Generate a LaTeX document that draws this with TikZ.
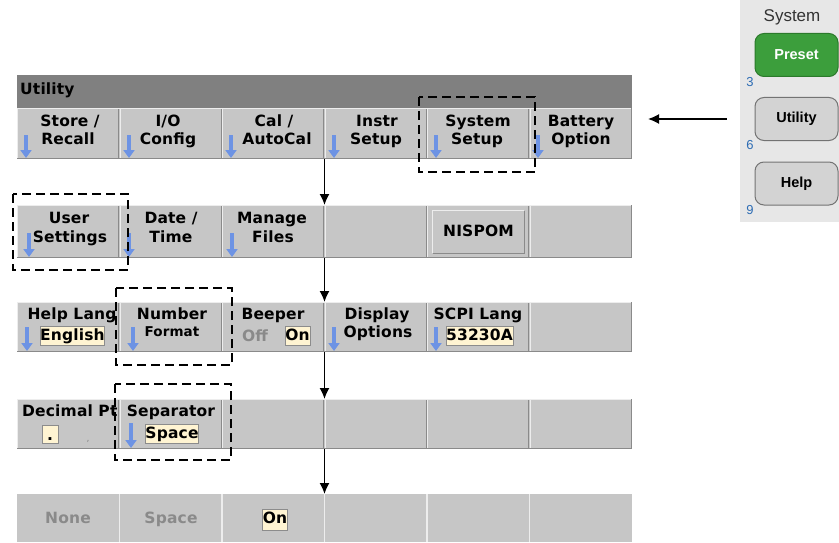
\documentclass[tikz,border=0pt]{standalone}
\usepackage{fontspec}
\newfontfamily\keyfont[LetterSpace=1]{DejaVu Sans}
\newfontfamily\sysfont{Liberation Sans}
\usetikzlibrary{arrows.meta,calc}
\definecolor{hdr}{HTML}{808080}
\definecolor{keyfill}{HTML}{C6C6C6}
\definecolor{sepdark}{HTML}{8A8A8A}
\definecolor{seplight}{HTML}{EDEDED}
\definecolor{cream}{HTML}{FFF4D2}
\definecolor{hlborder}{HTML}{8C8C8C}
\definecolor{blueA}{HTML}{6D93E4}
\definecolor{graytxt}{HTML}{8A8A8A}
\definecolor{panel}{HTML}{E7E7E7}
\definecolor{greenbtn}{HTML}{3C9E3C}
\definecolor{greendark}{HTML}{2B7A2B}
\definecolor{sysbtn}{HTML}{D3D3D3}
\definecolor{digit}{HTML}{2E6DB4}
\tikzset{
  keybox/.style={rectangle, fill=keyfill, minimum width=102.5pt, inner sep=0pt, outer sep=0pt},
  kt/.style={font=\keyfont\bfseries\fontsize{15.5}{17}\selectfont, inner sep=0pt, anchor=center, text=black, text height=11.5pt, text depth=3pt},
  ktsmall/.style={font=\keyfont\bfseries\fontsize{13.5}{15}\selectfont, inner sep=0pt, anchor=center, text height=10pt, text depth=3pt},
  ktgray/.style={kt, text=graytxt},
  hl/.style={fill=cream, draw=hlborder, line width=0.6pt, inner sep=0pt, font=\keyfont\bfseries\fontsize{15.5}{17}\selectfont, text height=11.5pt, text depth=3pt},
  barr/.style={draw=blueA, line width=3.2pt, -{Triangle[length=8pt,width=11pt]}},
  conn/.style={line width=1.6pt, -{Latex[length=11pt,width=10pt]}},
  dbox/.style={draw=black, line width=2pt, dash pattern=on 9pt off 5pt},
  sysb/.style={rectangle, rounded corners=9pt, minimum width=83pt, minimum height=43pt, inner sep=0pt},
  systxt/.style={font=\sysfont\bfseries\fontsize{14.5}{16}\selectfont},
  dig/.style={font=\sysfont\fontsize{13}{15}\selectfont, text=digit, inner sep=0pt},
}
\newcommand\barrow[3]{\draw[barr] (#1,#2) -- (#1,#3);}
\newcommand\rowseps[2]{%
  \foreach \xb in {119.5,222,324.5,427,529.5}{
    \draw[sepdark, line width=1pt] (\xb-0.6,#1) -- (\xb-0.6,#2);
    \draw[seplight, line width=1pt] (\xb+0.6,#1) -- (\xb+0.6,#2);
  }
  \draw[seplight, line width=1pt] (17.5,#1) -- (17.5,#2);
  \draw[seplight, line width=0.8pt] (17,#1+0.4) -- (632,#1+0.4);
  \draw[sepdark, line width=1.4pt] (631.3,#1) -- (631.3,#2);
  \draw[sepdark, line width=1.4pt] (17,#2-0.7) -- (632,#2-0.7);
}
\begin{document}
\begin{tikzpicture}[x=1pt,y=-1pt]
\useasboundingbox (0,0) rectangle (839,543);
\fill[white] (0,0) rectangle (839,543);

% ---------- Row 1: Utility ----------
\node[rectangle, fill=hdr, minimum width=615pt, minimum height=33pt, inner sep=0pt] (hdrbar) at (324.5,91.5) {};
\node[kt, anchor=west] (hdrtxt) at (20,90) {Utility};
\node[keybox, minimum height=51pt] (r1c1) at (68.25,133.5) {};
\node[keybox, minimum height=51pt] (r1c2) at (170.75,133.5) {};
\node[keybox, minimum height=51pt] (r1c3) at (273.25,133.5) {};
\node[keybox, minimum height=51pt] (r1c4) at (375.75,133.5) {};
\node[keybox, minimum height=51pt] (r1c5) at (478.25,133.5) {};
\node[keybox, minimum height=51pt] (r1c6) at (580.75,133.5) {};
\rowseps{108}{159}
\node[kt] (t11a) at (70,122) {Store /};
\node[kt] (t11b) at (68,140) {Recall};
\node[kt] (t12a) at (168,122) {I/O};
\node[kt] (t12b) at (168,140) {Config};
\node[kt] (t13a) at (274,122) {Cal /};
\node[kt] (t13b) at (277,140) {AutoCal};
\node[kt] (t14a) at (377,122) {Instr};
\node[kt] (t14b) at (376,140) {Setup};
\node[kt] (t15a) at (478,122) {System};
\node[kt] (t15b) at (477,140) {Setup};
\node[kt] (t16a) at (581,122) {Battery};
\node[kt] (t16b) at (581,140) {Option};
\barrow{26}{135}{158}
\barrow{129}{135}{158}
\barrow{231}{135}{158}
\barrow{334}{135}{158}
\barrow{436}{135}{158}
\barrow{538}{135}{158}

% ---------- Row 2 ----------
\node[keybox, minimum height=53pt] (r2c1) at (68.25,231.5) {};
\node[keybox, minimum height=53pt] (r2c2) at (170.75,231.5) {};
\node[keybox, minimum height=53pt] (r2c3) at (273.25,231.5) {};
\node[keybox, minimum height=53pt] (r2c4) at (375.75,231.5) {};
\node[keybox, minimum height=53pt] (r2c5) at (478.25,231.5) {};
\node[keybox, minimum height=53pt] (r2c6) at (580.75,231.5) {};
\rowseps{205}{258}
\node[kt] (t21a) at (69,219) {User};
\node[kt] (t21b) at (70,238) {Settings};
\node[kt] (t22a) at (171,219) {Date /};
\node[kt] (t22b) at (171,238) {Time};
\node[kt] (t23a) at (272,219) {Manage};
\node[kt] (t23b) at (273,238) {Files};
\barrow{29}{233}{257}
\barrow{129}{233}{257}
\barrow{232}{233}{257}
\node[rectangle, fill=keyfill, minimum width=91pt, minimum height=42pt, inner sep=0pt] (nis) at (478.5,232) {};
\draw[seplight, line width=1.2pt] (nis.south west) -- (nis.north west) -- (nis.north east);
\draw[sepdark, line width=1.2pt] (nis.north east) -- (nis.south east) -- (nis.south west);
\node[kt] (nistxt) at (nis.center) {NISPOM};

% ---------- Row 3 ----------
\node[keybox, minimum height=50pt] (r3c1) at (68.25,327) {};
\node[keybox, minimum height=50pt] (r3c2) at (170.75,327) {};
\node[keybox, minimum height=50pt] (r3c3) at (273.25,327) {};
\node[keybox, minimum height=50pt] (r3c4) at (375.75,327) {};
\node[keybox, minimum height=50pt] (r3c5) at (478.25,327) {};
\node[keybox, minimum height=50pt] (r3c6) at (580.75,327) {};
\rowseps{302}{352}
\node[kt] (t31a) at (72,315) {Help Lang};
\node[hl, minimum width=61pt, minimum height=19pt] (t31b) at (72.5,336) {English};
\node[kt] (t32a) at (172,315) {Number};
\node[ktsmall] (t32b) at (172,333) {Format};
\node[kt] (t33a) at (273,315) {Beeper};
\node[ktgray] (t33b) at (255,337) {Off};
\node[hl, minimum width=25pt, minimum height=19pt] (t33c) at (297.5,336) {On};
\node[kt] (t34a) at (377,315) {Display};
\node[kt] (t34b) at (378,333) {Options};
\node[kt] (t35a) at (478,315) {SCPI Lang};
\node[hl, minimum width=67pt, minimum height=19pt] (t35b) at (479.5,336) {53230A};
\barrow{27}{327}{351}
\barrow{133}{327}{351}
\barrow{334}{327}{351}
\barrow{436}{327}{351}

% ---------- Row 4 ----------
\node[keybox, minimum height=50pt] (r4c1) at (68.25,424) {};
\node[keybox, minimum height=50pt] (r4c2) at (170.75,424) {};
\node[keybox, minimum height=50pt] (r4c3) at (273.25,424) {};
\node[keybox, minimum height=50pt] (r4c4) at (375.75,424) {};
\node[keybox, minimum height=50pt] (r4c5) at (478.25,424) {};
\node[keybox, minimum height=50pt] (r4c6) at (580.75,424) {};
\rowseps{399}{449}
\node[kt, anchor=west] (t41a) at (22,412) {Decimal Pt};
\node[hl, minimum width=16pt, minimum height=18pt] (t41b) at (50,434) {};
\node[kt, inner sep=0pt] (t41c) at (50,436) {.};
\node[ktgray, font=\keyfont\fontsize{9}{10}\selectfont] (t41d) at (88,437) {,};
\node[kt] (t42a) at (171,412) {Separator};
\node[hl, minimum width=53pt, minimum height=19pt] (t42b) at (172,434) {Space};
\barrow{131}{423}{448}

% ---------- Row 5 ----------
\node[keybox, minimum height=48pt] (r5c1) at (68.25,518) {};
\node[keybox, minimum height=48pt] (r5c2) at (170.75,518) {};
\node[keybox, minimum height=48pt] (r5c3) at (273.25,518) {};
\node[keybox, minimum height=48pt] (r5c4) at (375.75,518) {};
\node[keybox, minimum height=48pt] (r5c5) at (478.25,518) {};
\node[keybox, minimum height=48pt] (r5c6) at (580.75,518) {};
\foreach \xb in {119.5,222,324.5,427,529.5}{
  \draw[seplight, line width=1.2pt] (\xb,494) -- (\xb,542);
}
\node[ktgray] (t51) at (68,519) {None};
\node[ktgray] (t52) at (171,519) {Space};
\node[hl, minimum width=25pt, minimum height=21pt] (t53) at (275,519.5) {On};

% ---------- Connectors ----------
\draw[conn] (r1c4.south west) -- (r2c4.north west);
\draw[conn] (r2c4.south west) -- (r3c4.north west);
\draw[conn] (r3c4.south west) -- (r4c4.north west);
\draw[conn] (r4c4.south west) -- (r5c4.north west);

% ---------- Dashed highlight boxes ----------
\draw[dbox] (419,97) rectangle (535,172);
\draw[dbox] (13,194) rectangle (128,270);
\draw[dbox] (116,288) rectangle (232,365);
\draw[dbox] (115,384) rectangle (231,460);

% ---------- System panel ----------
\fill[panel] (740,0) rectangle (839,222);
\node[font=\sysfont\fontsize{17}{19}\selectfont, text=black!80] (systitle) at (792,17) {System};
\node[sysb, fill=greenbtn, draw=greendark, line width=1pt] (preset) at (796.5,55) {};
\node[systxt, text=white] (presettxt) at (preset.center) {Preset};
\node[dig] (d3) at (750,82) {3};
\node[sysb, fill=sysbtn, draw=black!55, line width=1pt] (ubtn) at (796.5,119) {};
\node[systxt] (utxt) at (ubtn.center) {Utility};
\node[dig] (d6) at (750,145) {6};
\node[sysb, fill=sysbtn, draw=black!55, line width=1pt] (hbtn) at (796.5,183.5) {};
\node[systxt] (htxt) at (hbtn.center) {Help};
\node[dig] (d9) at (750,210) {9};

\draw[conn] ([xshift=-28pt]ubtn.west) -- ([xshift=16pt]ubtn.west -| r1c6.east);
\end{tikzpicture}
\end{document}
